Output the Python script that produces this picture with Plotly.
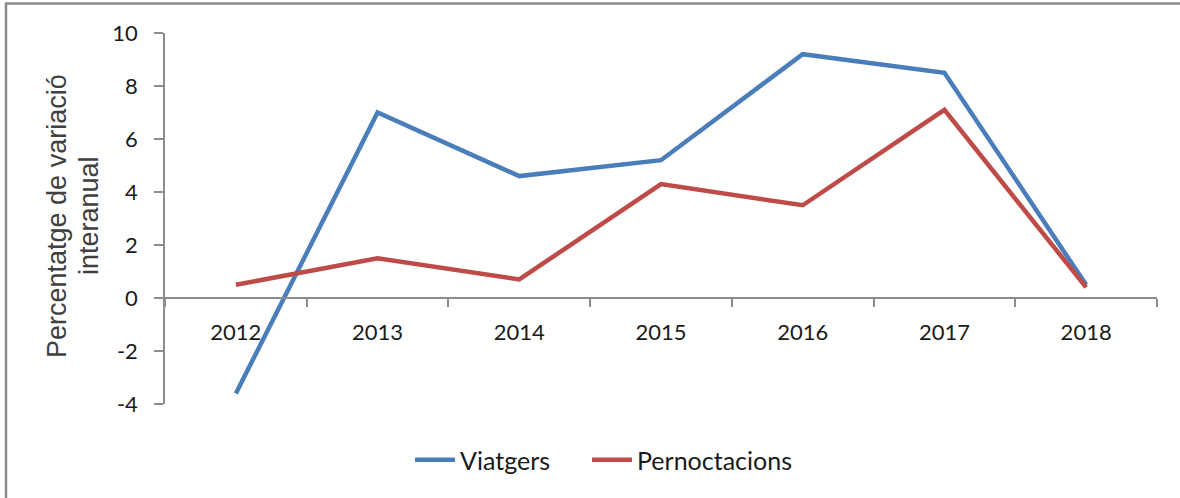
import plotly.graph_objects as go

years = ["2012", "2013", "2014", "2015", "2016", "2017", "2018"]
viatgers = [-3.6, 7.0, 4.6, 5.2, 9.2, 8.5, 0.5]
pernoctacions = [0.5, 1.5, 0.7, 4.3, 3.5, 7.1, 0.4]
y_ticks = [-4, -2, 0, 2, 4, 6, 8, 10]
y_title_lines = ["Percentatge de variació", "interanual"]

W, H = 1180, 498
L, R, T, B = 165, 23, 33, 94
pw, ph = W - L - R, H - T - B


def px_x(p):
    return (p - L) / pw


def px_y(p):
    return (H - B - p) / ph


fig = go.Figure()
fig.add_trace(go.Scatter(x=years, y=viatgers, mode="lines", name="Viatgers",
                         line=dict(color="#4A7EBB", width=4.5), legend="legend"))
fig.add_trace(go.Scatter(x=years, y=pernoctacions, mode="lines", name="Pernoctacions",
                         line=dict(color="#BE4B48", width=4.5), legend="legend2"))

ymin, ymax = -4, 10
legend_common = dict(
    orientation="h", xanchor="left", y=px_y(460), yanchor="middle",
    font=dict(size=25, color="#1a1a1a"), itemwidth=40,
    bgcolor="rgba(0,0,0,0)",
)
fig.update_layout(
    width=W, height=H,
    margin=dict(l=L, r=R, t=T, b=B),
    paper_bgcolor="white", plot_bgcolor="white",
    font=dict(family="Lato, Calibri, sans-serif", color="#1a1a1a"),
    xaxis=dict(
        type="category", range=[-0.5, 6.5], tickson="boundaries",
        anchor="free", position=(0 - ymin) / (ymax - ymin),
        showline=True, linecolor="#8c8c8c", linewidth=1.5,
        ticks="outside", ticklen=8, tickcolor="#8c8c8c", tickwidth=1.5,
        ticklabelstandoff=15,
        tickfont=dict(size=22, color="#1a1a1a"),
        showgrid=False, zeroline=False,
    ),
    yaxis=dict(
        range=[ymin, ymax], tickvals=y_ticks, ticktext=[str(v) for v in y_ticks],
        showline=True, linecolor="#8c8c8c", linewidth=1.5,
        ticks="outside", ticklen=9, tickcolor="#8c8c8c", tickwidth=1.5,
        ticklabelstandoff=12,
        tickfont=dict(size=22, color="#1a1a1a"),
        showgrid=False, zeroline=False,
    ),
    legend=dict(x=px_x(410), **legend_common),
    legend2=dict(x=px_x(587), **legend_common),
    showlegend=True,
)

for txt, cx in zip(y_title_lines, [57, 89]):
    fig.add_annotation(
        text=txt, xref="paper", yref="paper",
        x=px_x(cx), y=px_y(216), xanchor="center", yanchor="middle",
        textangle=-90, showarrow=False,
        font=dict(family="Liberation Sans, Arial, sans-serif", size=27, color="#404040"),
    )

# chart frame (top and left edges visible)
fig.add_shape(type="line", xref="paper", yref="paper",
              x0=px_x(5), x1=px_x(1180), y0=px_y(3.5), y1=px_y(3.5),
              line=dict(color="#8a8a8a", width=2.5))
fig.add_shape(type="line", xref="paper", yref="paper",
              x0=px_x(6), x1=px_x(6), y0=px_y(3), y1=px_y(498),
              line=dict(color="#8a8a8a", width=2.5))

html = fig.to_html(include_plotlyjs=True, full_html=True,
                   config={"displayModeBar": False})
html = html.replace("<body>", '<body style="margin:0;padding:0;overflow:hidden">', 1)
with open("out.html", "w", encoding="utf-8") as f:
    f.write(html)
